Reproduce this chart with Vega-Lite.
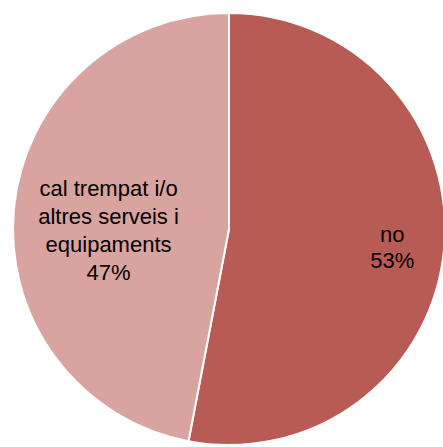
{
  "$schema": "https://vega.github.io/schema/vega-lite/v6.json",
  "width": 458,
  "height": 458,
  "padding": 0,
  "autosize": {"type": "none"},
  "background": "white",
  "view": {"stroke": null},
  "data": {
    "values": [
      {"category": "no", "value": 53, "label": ["no", "53%"]},
      {"category": "cal trempat i/o altres serveis i equipaments", "value": 47, "label": ["cal trempat i/o", "altres serveis i", "equipaments", "47%"]}
    ]
  },
  "transform": [
    {"stack": "value", "groupby": [], "sort": [{"field": "value", "order": "descending"}], "as": ["v0", "v1"]},
    {"calculate": "(datum.v0 + datum.v1) / 2", "as": "mid"}
  ],
  "layer": [
    {
      "mark": {"type": "arc", "outerRadius": 216, "stroke": "white", "strokeWidth": 2},
      "encoding": {
        "theta": {"field": "v0", "type": "quantitative", "scale": {"domain": [0, 100]}},
        "theta2": {"field": "v1"},
        "color": {
          "field": "category",
          "type": "nominal",
          "scale": {"domain": ["no", "cal trempat i/o altres serveis i equipaments"], "range": ["#B95B55", "#D9A3A0"]},
          "legend": null
        }
      }
    },
    {
      "transform": [{"filter": "datum.category == 'no'"}],
      "mark": {"type": "text", "radius": 164, "dy": -2, "fontSize": 22, "font": "Liberation Sans", "lineHeight": 26, "color": "black", "align": "center", "baseline": "alphabetic"},
      "encoding": {
        "theta": {"field": "mid", "type": "quantitative", "scale": {"domain": [0, 100]}},
        "text": {"field": "label"}
      }
    },
    {
      "transform": [{"filter": "datum.category != 'no'"}],
      "mark": {"type": "text", "radius": 121, "dy": -22, "fontSize": 22, "font": "Liberation Sans", "lineHeight": 28, "color": "black", "align": "center", "baseline": "alphabetic"},
      "encoding": {
        "theta": {"field": "mid", "type": "quantitative", "scale": {"domain": [0, 100]}},
        "text": {"field": "label"}
      }
    }
  ]
}
